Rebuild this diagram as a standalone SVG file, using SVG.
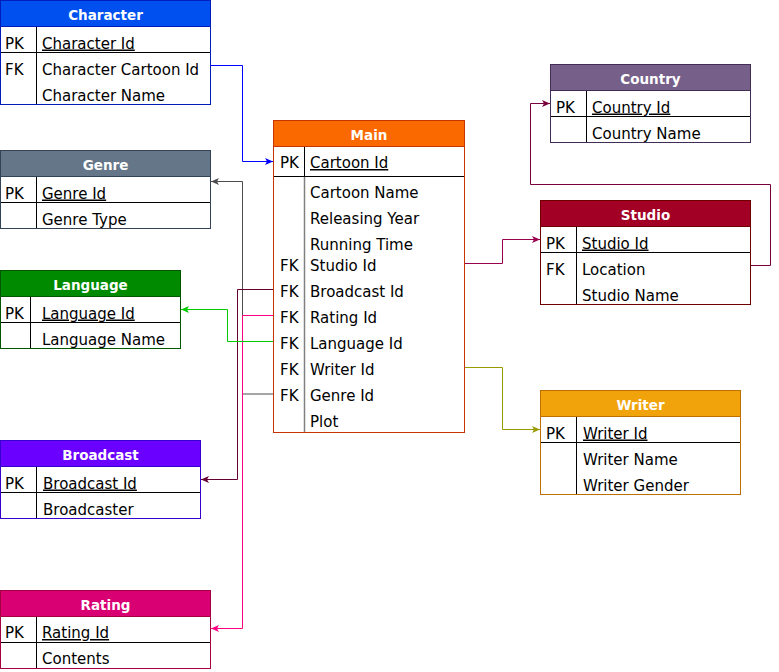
<svg xmlns="http://www.w3.org/2000/svg" width="779" height="672" viewBox="0 0 779 672">
<style>
.t{font-family:"DejaVu Sans","Liberation Sans",sans-serif;font-size:15px;fill:#000}
.h{font-family:"DejaVu Sans","Liberation Sans",sans-serif;font-size:13.5px;font-weight:bold;fill:#fff;text-anchor:middle}
.u{text-decoration:underline}
.ln{stroke:#000;stroke-width:1;fill:none}
.c{fill:none;stroke-width:1}
</style>
<defs>
<marker id="aBlue" viewBox="0 0 8 8" refX="8" refY="4" markerWidth="8" markerHeight="8" markerUnits="userSpaceOnUse" orient="auto"><path d="M0,0.5 L8,4 L0,7.5 L2,4 Z" fill="#0000FF"/></marker>
<marker id="aGray" viewBox="0 0 8 8" refX="8" refY="4" markerWidth="8" markerHeight="8" markerUnits="userSpaceOnUse" orient="auto"><path d="M0,0.5 L8,4 L0,7.5 L2,4 Z" fill="#4D4D4D"/></marker>
<marker id="aMaroon" viewBox="0 0 8 8" refX="8" refY="4" markerWidth="8" markerHeight="8" markerUnits="userSpaceOnUse" orient="auto"><path d="M0,0.5 L8,4 L0,7.5 L2,4 Z" fill="#660033"/></marker>
<marker id="aPink" viewBox="0 0 8 8" refX="8" refY="4" markerWidth="8" markerHeight="8" markerUnits="userSpaceOnUse" orient="auto"><path d="M0,0.5 L8,4 L0,7.5 L2,4 Z" fill="#FF0080"/></marker>
<marker id="aGreen" viewBox="0 0 8 8" refX="8" refY="4" markerWidth="8" markerHeight="8" markerUnits="userSpaceOnUse" orient="auto"><path d="M0,0.5 L8,4 L0,7.5 L2,4 Z" fill="#00CC00"/></marker>
<marker id="aStudio" viewBox="0 0 8 8" refX="8" refY="4" markerWidth="8" markerHeight="8" markerUnits="userSpaceOnUse" orient="auto"><path d="M0,0.5 L8,4 L0,7.5 L2,4 Z" fill="#99004D"/></marker>
<marker id="aCountry" viewBox="0 0 8 8" refX="8" refY="4" markerWidth="8" markerHeight="8" markerUnits="userSpaceOnUse" orient="auto"><path d="M0,0.5 L8,4 L0,7.5 L2,4 Z" fill="#7A003D"/></marker>
<marker id="aOlive" viewBox="0 0 8 8" refX="8" refY="4" markerWidth="8" markerHeight="8" markerUnits="userSpaceOnUse" orient="auto"><path d="M0,0.5 L8,4 L0,7.5 L2,4 Z" fill="#999900"/></marker>
</defs>
<rect x="0" y="0" width="779" height="672" fill="#fff"/>

<g id="connectors">
<path class="c" stroke="#0000FF" d="M211,65.5 H242.5 V161.5 H273" marker-end="url(#aBlue)"/>
<path class="c" stroke="#4D4D4D" d="M273.5,394 H242.5 V181.5 H211" marker-end="url(#aGray)"/>
<path class="c" stroke="#660033" d="M273.5,289.5 H237.5 V479.5 H201" marker-end="url(#aMaroon)"/>
<path class="c" stroke="#FF0080" d="M273.5,315.5 H242.5 V628.5 H211" marker-end="url(#aPink)"/>
<path class="c" stroke="#00CC00" d="M273.5,341.5 H227.5 V309.5 H181" marker-end="url(#aGreen)"/>
<path class="c" stroke="#99004D" d="M464.5,263.5 H502.5 V239.5 H540" marker-end="url(#aStudio)"/>
<path class="c" stroke="#7A003D" d="M750.5,265.5 H770.5 V184.5 H530.5 V103.5 H550" marker-end="url(#aCountry)"/>
<path class="c" stroke="#999900" d="M464.5,367.5 H502.5 V429.5 H540" marker-end="url(#aOlive)"/>
</g>

<g id="character">
<rect x="0.5" y="0.5" width="210" height="104" fill="#fff" stroke="#001DBC"/>
<rect x="0.5" y="0.5" width="210" height="26" fill="#0050EF" stroke="#001DBC"/>
<line class="ln" x1="1" y1="52.5" x2="210" y2="52.5"/>
<line class="ln" x1="36.5" y1="27" x2="36.5" y2="104"/>
<text class="h" x="105.5" y="19.5">Character</text>
<text class="t" x="5" y="48.5">PK</text>
<text class="t u" x="42" y="48.5">Character Id</text>
<text class="t" x="5" y="74.5">FK</text>
<text class="t" x="42" y="74.5">Character Cartoon Id</text>
<text class="t" x="42" y="100.5">Character Name</text>
</g>

<g id="genre">
<rect x="0.5" y="150.5" width="210" height="78" fill="#fff" stroke="#314354"/>
<rect x="0.5" y="150.5" width="210" height="26" fill="#647687" stroke="#314354"/>
<line class="ln" x1="1" y1="202.5" x2="210" y2="202.5"/>
<line class="ln" x1="36.5" y1="177" x2="36.5" y2="228"/>
<text class="h" x="105.5" y="169.5">Genre</text>
<text class="t" x="5" y="198.5">PK</text>
<text class="t u" x="42" y="198.5">Genre Id</text>
<text class="t" x="42" y="224.5">Genre Type</text>
</g>

<g id="language">
<rect x="0.5" y="270.5" width="180" height="78" fill="#fff" stroke="#005700"/>
<rect x="0.5" y="270.5" width="180" height="26" fill="#008A00" stroke="#005700"/>
<line class="ln" x1="1" y1="322.5" x2="180" y2="322.5"/>
<line class="ln" x1="30.5" y1="297" x2="30.5" y2="348"/>
<text class="h" x="90.5" y="289.5">Language</text>
<text class="t" x="5" y="318.5">PK</text>
<text class="t u" x="42" y="318.5">Language Id</text>
<text class="t" x="42" y="344.5">Language Name</text>
</g>

<g id="broadcast">
<rect x="0.5" y="440.5" width="200" height="78" fill="#fff" stroke="#3700CC"/>
<rect x="0.5" y="440.5" width="200" height="26" fill="#6A00FF" stroke="#3700CC"/>
<line class="ln" x1="1" y1="492.5" x2="200" y2="492.5"/>
<line class="ln" x1="36.5" y1="467" x2="36.5" y2="518"/>
<text class="h" x="100.5" y="459.5">Broadcast</text>
<text class="t" x="5" y="488.5">PK</text>
<text class="t u" x="43" y="488.5">Broadcast Id</text>
<text class="t" x="43" y="514.5">Broadcaster</text>
</g>

<g id="rating">
<rect x="0.5" y="590.5" width="210" height="78" fill="#fff" stroke="#A50040"/>
<rect x="0.5" y="590.5" width="210" height="26" fill="#D80073" stroke="#A50040"/>
<line class="ln" x1="1" y1="642.5" x2="210" y2="642.5"/>
<line class="ln" x1="36.5" y1="617" x2="36.5" y2="668"/>
<text class="h" x="105.5" y="609.5">Rating</text>
<text class="t" x="5" y="638">PK</text>
<text class="t u" x="42" y="638">Rating Id</text>
<text class="t" x="42" y="664">Contents</text>
</g>

<g id="main">
<rect x="273.5" y="120.5" width="191" height="312" fill="#fff" stroke="#C73500"/>
<rect x="273.5" y="120.5" width="191" height="26" fill="#FA6800" stroke="#C73500"/>
<line class="ln" x1="274" y1="176.5" x2="464" y2="176.5"/>
<line class="ln" x1="304.5" y1="147" x2="304.5" y2="176"/>
<line x1="304.5" y1="177" x2="304.5" y2="432" stroke="#808080" stroke-width="1.5"/>
<text class="h" x="369" y="139.5">Main</text>
<text class="t" x="280" y="168">PK</text>
<text class="t u" x="310" y="168">Cartoon Id</text>
<text class="t" x="310" y="198">Cartoon Name</text>
<text class="t" x="310" y="224">Releasing Year</text>
<text class="t" x="310" y="250">Running Time</text>
<text class="t" x="280" y="271">FK</text>
<text class="t" x="310" y="271">Studio Id</text>
<text class="t" x="280" y="297">FK</text>
<text class="t" x="310" y="297">Broadcast Id</text>
<text class="t" x="280" y="323">FK</text>
<text class="t" x="310" y="323">Rating Id</text>
<text class="t" x="280" y="349">FK</text>
<text class="t" x="310" y="349">Language Id</text>
<text class="t" x="280" y="375">FK</text>
<text class="t" x="310" y="375">Writer Id</text>
<text class="t" x="280" y="401">FK</text>
<text class="t" x="310" y="401">Genre Id</text>
<text class="t" x="310" y="427">Plot</text>
</g>

<g id="country">
<rect x="550.5" y="64.5" width="200" height="78" fill="#fff" stroke="#432D57"/>
<rect x="550.5" y="64.5" width="200" height="26" fill="#76608A" stroke="#432D57"/>
<line class="ln" x1="551" y1="116.5" x2="750" y2="116.5"/>
<line class="ln" x1="586.5" y1="91" x2="586.5" y2="142"/>
<text class="h" x="650.5" y="83.5">Country</text>
<text class="t" x="556" y="112.5">PK</text>
<text class="t u" x="592" y="112.5">Country Id</text>
<text class="t" x="592" y="138.5">Country Name</text>
</g>

<g id="studio">
<rect x="540.5" y="200.5" width="210" height="104" fill="#fff" stroke="#6F0000"/>
<rect x="540.5" y="200.5" width="210" height="26" fill="#A20025" stroke="#6F0000"/>
<line class="ln" x1="541" y1="252.5" x2="750" y2="252.5"/>
<line class="ln" x1="576.5" y1="227" x2="576.5" y2="304"/>
<text class="h" x="645.5" y="219.5">Studio</text>
<text class="t" x="546" y="248.5">PK</text>
<text class="t u" x="582" y="248.5">Studio Id</text>
<text class="t" x="546" y="274.5">FK</text>
<text class="t" x="582" y="274.5">Location</text>
<text class="t" x="582" y="300.5">Studio Name</text>
</g>

<g id="writer">
<rect x="540.5" y="390.5" width="200" height="104" fill="#fff" stroke="#BD7000"/>
<rect x="540.5" y="390.5" width="200" height="26" fill="#F0A30A" stroke="#BD7000"/>
<line class="ln" x1="541" y1="442.5" x2="740" y2="442.5"/>
<line class="ln" x1="576.5" y1="417" x2="576.5" y2="494"/>
<text class="h" x="640.5" y="409.5">Writer</text>
<text class="t" x="546" y="438.5">PK</text>
<text class="t u" x="583" y="438.5">Writer Id</text>
<text class="t" x="583" y="464.5">Writer Name</text>
<text class="t" x="583" y="490.5">Writer Gender</text>
</g>
</svg>
